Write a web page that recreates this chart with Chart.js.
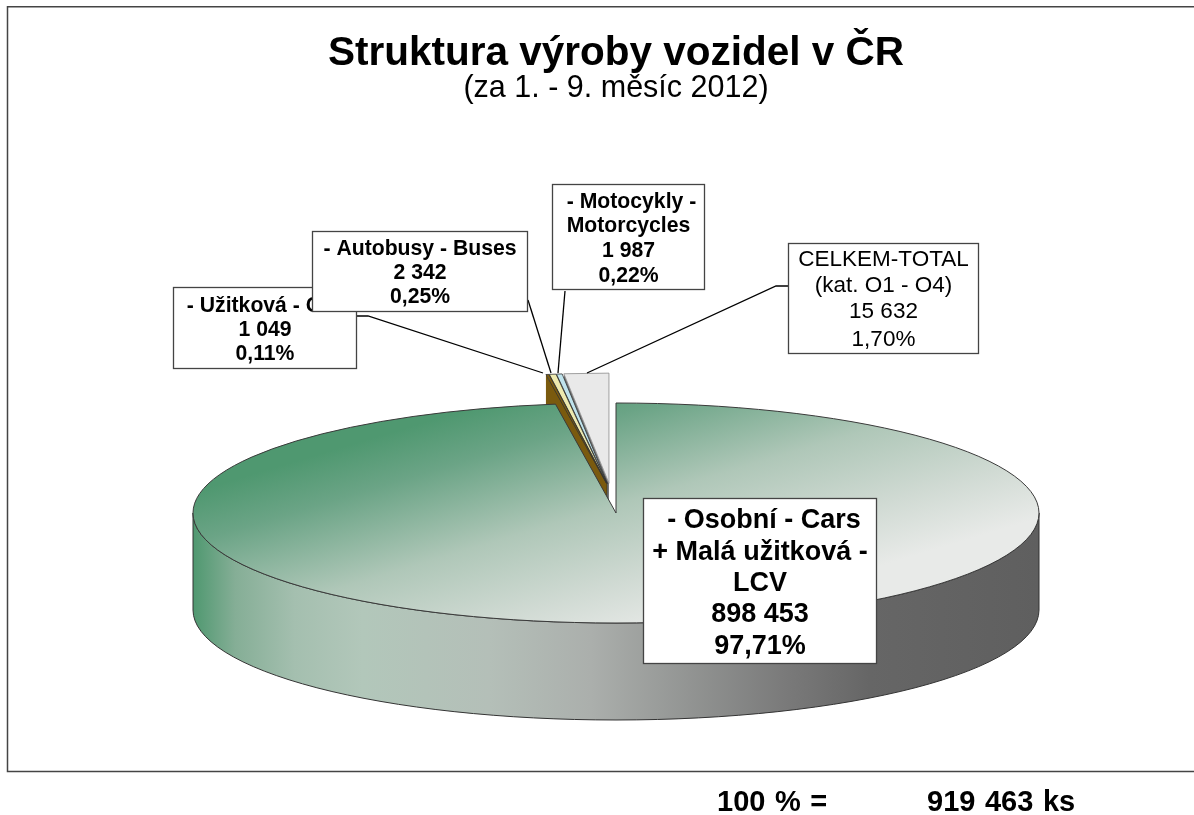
<!DOCTYPE html>
<html><head><meta charset="utf-8">
<style>html,body{margin:0;padding:0;background:#fff;overflow:hidden}canvas{display:block}</style>
<script src="https://cdn.jsdelivr.net/npm/chart.js@4"></script>
</head><body><canvas id="c" width="1194" height="815"></canvas>
<script>
const categories = ['- Osobní - Cars\n+ Malá užitková -\nLCV', '- Užitková - CV', '- Autobusy - Buses', '- Motocykly -\nMotorcycles', 'CELKEM-TOTAL\n(kat. O1 - O4)'];
const units = [898453, 1049, 2342, 1987, 15632];
const unitLabels = ['898 453', '1 049', '2 342', '1 987', '15 632'];
const percentLabels = ['97,71%', '0,11%', '0,25%', '0,22%', '1,70%'];
const totalLabel = '919 463 ks';
const totalPrefix = '100 % =';
const chartTitle = 'Struktura výroby vozidel v ČR';
const chartSubtitle = '(za 1. - 9. měsíc 2012)';

const topColors = [null, '#7E5E10', '#EDE9AE', '#BFE3EC', '#E9E9E9'];
const sideColors = [null, '#7A5A0E', '#4A3C10', '#2E3A3E', '#6E6E6E'];
const explode = [0, 115, 115, 115, 115];

const CX = 616, CY = 513, RX = 423, K = 110 / 423, DEPTH = 97, FAN_DX = -5.5, FAN_XS = 0.25;

function mainGradient(c) {
  const a = c.chart.chartArea, ctx = c.chart.ctx;
  if (!a) return '#888';
  const x0 = (a.left + a.right) / 2, y0 = (a.top + a.bottom) / 2;
  const nx = 0.3, ny = K, t0 = 550, t1 = 830;
  const n2 = nx * nx + ny * ny;
  const sx = 195, sy = (t0 - 0.3 * sx);
  const px = sx - CX + x0, py = (sy - CY) / K + y0;
  const d = (t1 - t0) / n2;
  const g = ctx.createLinearGradient(px, py, px + nx * d, py + ny * d);
  g.addColorStop(0, '#4F9870');
  g.addColorStop(0.18, '#6BA486');
  g.addColorStop(0.5, '#AFC7B8');
  g.addColorStop(0.78, '#D0DAD3');
  g.addColorStop(1, '#E8EAE8');
  return g;
}

const pie3d = {
  id: 'pie3d',
  beforeDatasetDraw(chart) {
    const ctx = chart.ctx, arcs = chart.getDatasetMeta(0).data;
    const shift = (el, i) => {
      const h = (el.startAngle + el.endAngle) / 2;
      return { x: Math.cos(h) * explode[i] * FAN_XS + (i ? FAN_DX : 0), y: Math.sin(h) * explode[i] };
    };
    const pt = (el, i, ang, r) => {
      const o = shift(el, i);
      return { x: CX + o.x + Math.cos(ang) * r, y: CY + (o.y + Math.sin(ang) * r) * K };
    };
    // back to front: right-most exploded slice first, main slice last
    for (let i = arcs.length - 1; i >= 0; i--) {
      const el = arcs[i];
      if (i === 0) {
        const g = ctx.createLinearGradient(CX - RX, 0, CX + RX, 0);
        [[0, '#4F9870'], [0.05, '#85AE96'], [0.12, '#A4BFAF'], [0.2, '#B2C7BA'], [0.35, '#B4BFB8'], [0.47, '#ABAFAC'], [0.7, '#7A7A7A'], [0.8, '#666666'], [1, '#5F5F5F']].forEach(s => g.addColorStop(s[0], s[1]));
        ctx.beginPath();
        ctx.ellipse(CX, CY, RX, RX * K, 0, 0, Math.PI);
        ctx.ellipse(CX, CY + DEPTH, RX, RX * K, 0, Math.PI, 0, true);
        ctx.closePath();
        ctx.fillStyle = g;
        ctx.fill();
        ctx.strokeStyle = '#333';
        ctx.lineWidth = 1;
        ctx.stroke();
      } else {
        const a = pt(el, i, 0, 0), b = pt(el, i, el.startAngle, RX);
        ctx.beginPath();
        ctx.moveTo(a.x, a.y); ctx.lineTo(b.x, b.y);
        ctx.lineTo(b.x, b.y + DEPTH); ctx.lineTo(a.x, a.y + DEPTH);
        ctx.closePath();
        ctx.fillStyle = sideColors[i];
        ctx.fill();
      }
      // top face, drawn by the library's own arc element
      const o = shift(el, i);
      ctx.save();
      ctx.translate(CX, CY); ctx.scale(1, K); ctx.translate(-el.x + o.x, -el.y + o.y);
      el.draw(ctx, chart.chartArea);
      ctx.restore();
      // uniform outline in screen space
      ctx.beginPath();
      if (i === 0) {
        const s = pt(el, 0, el.startAngle, RX);
        ctx.moveTo(CX, CY); ctx.lineTo(s.x, s.y);
        ctx.ellipse(CX, CY, RX, RX * K, 0, el.startAngle, el.endAngle);
        ctx.closePath();
        ctx.strokeStyle = '#3A3A3A';
      } else {
        const c = pt(el, i, 0, 0), s = pt(el, i, el.startAngle, RX), e = pt(el, i, el.endAngle, RX);
        ctx.moveTo(e.x, e.y); ctx.lineTo(c.x, c.y); ctx.lineTo(s.x, s.y);
        ctx.lineTo(e.x, e.y);
        ctx.strokeStyle = i === 4 ? '#8A8A8A' : '#333';
      }
      ctx.lineWidth = i === 0 ? 1 : 0.8;
      ctx.stroke();
    }
    return false;
  },
  afterDraw(chart) {
    const ctx = chart.ctx;
    // frame
    ctx.strokeStyle = '#444'; ctx.lineWidth = 1.5;
    ctx.beginPath();
    ctx.moveTo(1194, 6.7); ctx.lineTo(7.5, 6.7); ctx.lineTo(7.5, 771.5); ctx.lineTo(1194, 771.5);
    ctx.stroke();
    // leader lines
    ctx.strokeStyle = '#000'; ctx.lineWidth = 1.3;
    [[[357, 316], [368, 316], [543, 373]],
     [[528, 300], [551, 373]],
     [[565, 291], [558, 373]],
     [[788, 286], [776, 286], [587, 373]]].forEach(l => {
      ctx.beginPath();
      l.forEach((p, i) => i ? ctx.lineTo(p[0], p[1]) : ctx.moveTo(p[0], p[1]));
      ctx.stroke();
    });
    // callouts, painted in the order the reference stacks them
    const boxes = [
      { i: 1, x: 173, y: 287, w: 184, h: 82, f: 'bold 21.2px', ys: [306, 330, 354], dx: -4 },
      { i: 2, x: 312, y: 231, w: 216, h: 81, f: 'bold 21.2px', ys: [249, 273, 297], dx: 0 },
      { i: 3, x: 552, y: 184, w: 153, h: 106, f: 'bold 21.2px', ys: [202, 226, 251, 276], dx: 3 },
      { i: 4, x: 788, y: 243, w: 191, h: 111, f: '22.5px', ys: [260, 286, 312, 340], dx: 0 },
      { i: 0, x: 643, y: 498, w: 234, h: 166, f: 'bold 27px', ys: [521, 553, 584, 615, 647], dx: 4 }
    ];
    ctx.textAlign = 'center'; ctx.textBaseline = 'middle';
    boxes.forEach(b => {
      ctx.fillStyle = '#fff';
      ctx.fillRect(b.x, b.y, b.w, b.h);
      ctx.strokeStyle = '#444'; ctx.lineWidth = 1.3;
      ctx.strokeRect(b.x + .5, b.y + .5, b.w - 1, b.h - 1);
      ctx.fillStyle = '#000';
      ctx.font = b.f + ' "Liberation Sans"';
      const lines = categories[b.i].split('\n').concat([unitLabels[b.i], percentLabels[b.i]]);
      lines.forEach((t, n) => ctx.fillText(t, b.x + b.w / 2 + (n === 0 ? b.dx : 0), b.ys[n]));
    });
    // footer
    ctx.fillStyle = '#000'; ctx.font = 'bold 29px "Liberation Sans"'; ctx.textAlign = 'left';
    ctx.wordSpacing = '1.5px';
    ctx.fillText(totalPrefix, 717, 803);
    ctx.fillText(totalLabel, 927, 803);
    ctx.wordSpacing = '0px';
  }
};

new Chart(document.getElementById('c'), {
  type: 'pie',
  data: {
    labels: categories,
    datasets: [{
      data: units,
      backgroundColor: (c) => c.dataIndex === 0 ? mainGradient(c) : topColors[c.dataIndex],
      borderWidth: 0
    }]
  },
  plugins: [pie3d],
  options: {
    responsive: false,
    animation: false,
    radius: RX,
    rotation: 0,
    layout: { padding: { left: 38, right: 0, top: 0, bottom: 0 } },
    plugins: {
      legend: { display: false },
      tooltip: { enabled: false },
      title: {
        display: true, text: chartTitle, color: '#000',
        font: { family: '"Liberation Sans"', size: 40.5, weight: 'bold', lineHeight: 0.92 },
        padding: { top: 35.5, bottom: 0 }
      },
      subtitle: {
        display: true, text: chartSubtitle, color: '#000',
        font: { family: '"Liberation Sans"', size: 30.5, weight: 'normal', lineHeight: 1 },
        padding: { top: 1, bottom: 0 }
      }
    }
  }
});
</script></body></html>
